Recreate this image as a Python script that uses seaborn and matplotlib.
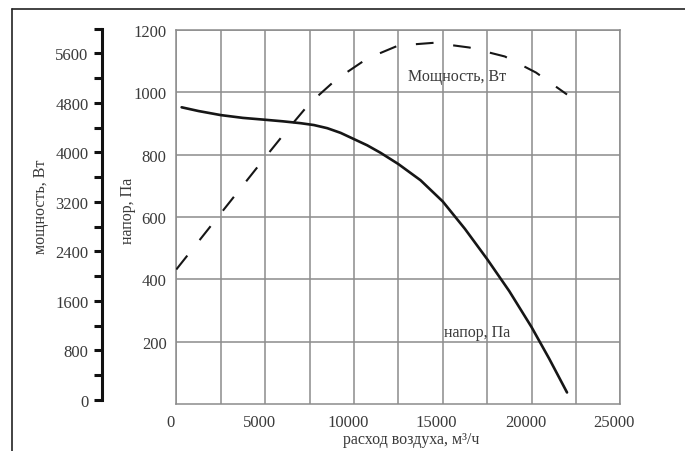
import numpy as np
import pandas as pd
import matplotlib
matplotlib.use("Agg")
import matplotlib.pyplot as plt
import matplotlib.transforms as mtransforms
from matplotlib.lines import Line2D
import seaborn as sns

# напор (pressure) curve
flow_p = [300, 1250, 2500, 3750, 5000, 6000, 7000, 7750, 8500, 9250, 10000, 10750,
          11500, 12500, 13750, 15000, 16250, 17500, 18750, 20000, 21000, 22000]
napor = [952, 940, 927, 918, 912, 907, 901, 895, 885, 870, 850, 830,
         806, 770, 718, 650, 562, 465, 362, 247, 145, 37]

# мощность (power) curve
flow_w = [0, 2500, 3750, 5000, 6250, 7500, 9000, 10750, 12500, 14500, 16500,
          18500, 20250, 22000]
power = [2108, 3013, 3465, 3917, 4362, 4789, 5176, 5515, 5725, 5769, 5693,
         5548, 5289, 4934]

df_p = pd.DataFrame({"flow": flow_p, "napor": napor})
df_w = pd.DataFrame({"flow": flow_w, "power": power})

sns.set_theme(style="white")
plt.rcParams['font.family'] = ['Liberation Serif', 'DejaVu Serif']
txt = '#3a3a3a'
grid_c = '#8c8c8c'
fs = 11.5
tfs = 12

W, H = 685, 452
fig = plt.figure(figsize=(W / 100, H / 100), dpi=100)

x0, x1 = 176.3, 620.3
ax = fig.add_axes([x0 / W, (H - 405) / H, (x1 - x0) / W, 374 / H])
axp = fig.add_axes([x0 / W, (H - 401) / H, (x1 - x0) / W, 371.5 / H], zorder=3)
axp.patch.set_alpha(0)

# main axes: napor
sns.lineplot(data=df_p, x="flow", y="napor", ax=ax, color='#161616', lw=1.9, sort=False)
ax.set_xlim(0, 25000)
ax.set_ylim(0, 1200)
ax.set_xticks(np.arange(0, 25001, 5000))
ax.set_xticks(np.arange(2500, 25000, 5000), minor=True)
ax.set_yticks(np.arange(200, 1201, 200))
ax.grid(True, which='both', color=grid_c, lw=1.1)
ax.tick_params(axis='both', which='both', length=0, labelsize=tfs, colors=txt)
ax.tick_params(axis='x', pad=7)
ax.tick_params(axis='y', pad=7)
for s in ax.spines.values():
    s.set_color(grid_c)
    s.set_linewidth(1.1)
off = mtransforms.ScaledTranslation(-6 / 100, 0, fig.dpi_scale_trans)
for lbl in ax.get_xticklabels():
    lbl.set_transform(lbl.get_transform() + off)

ax.set_xlabel("расход воздуха, м³/ч", fontsize=fs, color=txt)
ax.xaxis.set_label_coords((411 - x0) / (x1 - x0), (405 - 440) / 374)
ax.xaxis.label.set_va('center')
ax.set_ylabel("напор, Па", fontsize=fs, color=txt)
ax.yaxis.set_label_coords((127.5 - x0) / (x1 - x0), 0.52)
ax.yaxis.label.set_va('center')

ax.text(13026, 1052, "Мощность, Вт", fontsize=fs, color=txt, va='center', ha='left')
ax.text(15090, 230, "напор, Па", fontsize=fs, color=txt, va='center', ha='left')

# power axes
sns.lineplot(data=df_w, x="flow", y="power", ax=axp, color='#161616', lw=1.5, sort=False)
axp.lines[-1].set_dashes([8.5, 9.5])
axp.set_xlim(0, 25000)
axp.set_ylim(0, 6000)
for k in ['top', 'right', 'bottom']:
    axp.spines[k].set_visible(False)
axp.spines['left'].set_position(('outward', (x0 - 102) * 0.72))
axp.spines['left'].set_color('#111111')
axp.spines['left'].set_linewidth(2.2)
axp.set_xticks([])
ticks = np.arange(0, 6001, 400)
axp.set_yticks(ticks)
axp.set_yticklabels([str(t) if t % 800 == 0 and t < 6000 else "" for t in ticks])
axp.tick_params(axis='y', direction='out', length=5.8, width=2.2, color='#111111',
                pad=4, labelsize=tfs, labelcolor=txt, left=True)
axp.set_xlabel("")
axp.set_ylabel("мощность, Вт", fontsize=fs, color=txt)
axp.yaxis.set_label_coords((41 - x0) / (x1 - x0), 0.522)
axp.yaxis.label.set_va('center')

# outer frame
fig.add_artist(Line2D([11.5 / W, 1], [1 - 9.5 / H, 1 - 9.5 / H], color='#222222', lw=1.2,
                      transform=fig.transFigure))
fig.add_artist(Line2D([11.5 / W, 11.5 / W], [0, 1 - 9.5 / H], color='#222222', lw=1.2,
                      transform=fig.transFigure))

fig.savefig("out.png", dpi=100)
